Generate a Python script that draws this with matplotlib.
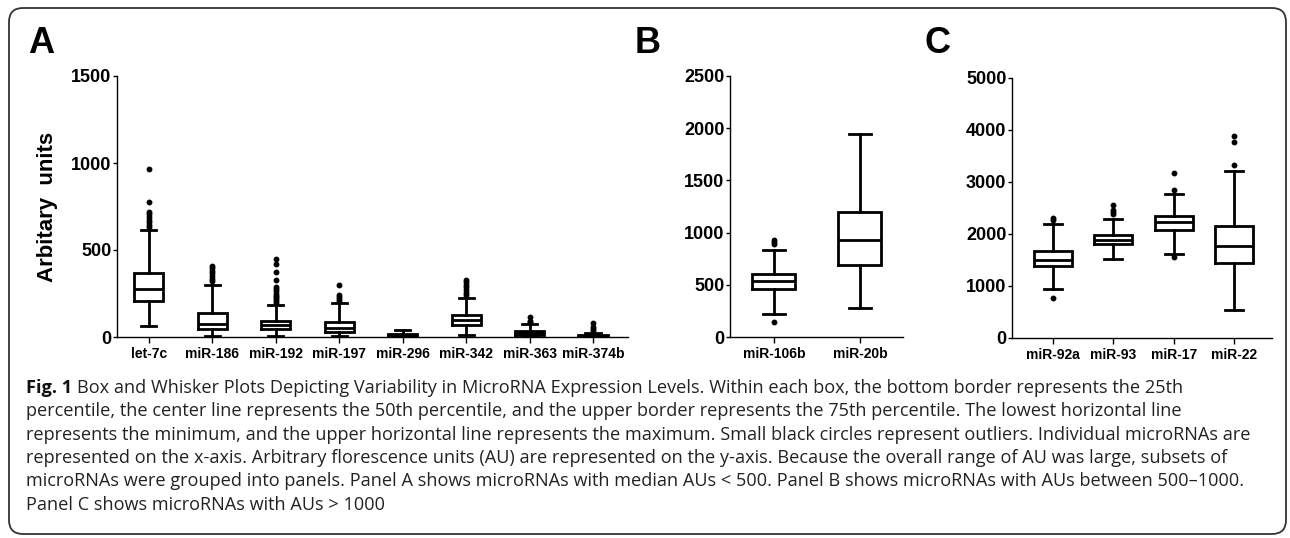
import matplotlib
matplotlib.use('Agg')
import matplotlib.pyplot as plt
from matplotlib.patches import FancyBboxPatch

# Panel A values
names_a = ['let-7c', 'miR-186', 'miR-192', 'miR-197', 'miR-296', 'miR-342', 'miR-363', 'miR-374b']
lo_a = [63, 6, 6, 4, 0, 10, 2, 0]
q1_a = [207, 48, 44, 31, 3, 71, 14, 2]
med_a = [278, 73, 68, 54, 8, 98, 25, 5]
q3_a = [366, 136, 92, 86, 17, 125, 37, 10]
hi_a = [613, 297, 182, 194, 40, 222, 73, 25]
out_a = [
    [630, 645, 660, 675, 690, 705, 720, 776, 963],
    [320, 335, 350, 365, 380, 395, 408],
    [198, 208, 218, 228, 238, 250, 262, 275, 290, 326, 375, 418, 447],
    [205, 217, 228, 240, 297],
    [],
    [240, 255, 270, 285, 300, 315, 330],
    [85, 92, 115],
    [35, 45, 55, 83],
]

# Panel B
names_b = ['miR-106b', 'miR-20b']
lo_b = [218, 278]
q1_b = [462, 687]
med_b = [536, 933]
q3_b = [600, 1199]
hi_b = [838, 1940]
out_b = [[144, 890, 910, 930], []]

# Panel C
names_c = ['miR-92a', 'miR-93', 'miR-17', 'miR-22']
lo_c = [942, 1519, 1615, 532]
q1_c = [1377, 1800, 2077, 1442]
med_c = [1500, 1891, 2224, 1770]
q3_c = [1665, 1987, 2352, 2147]
hi_c = [2190, 2288, 2769, 3218]
out_c = [[769, 2260, 2300], [2385, 2420, 2460, 2560], [1564, 2846, 3167], [3333, 3763, 3891]]

caption = [
    "Box and Whisker Plots Depicting Variability in MicroRNA Expression Levels. Within each box, the bottom border represents the 25th",
    "percentile, the center line represents the 50th percentile, and the upper border represents the 75th percentile. The lowest horizontal line",
    "represents the minimum, and the upper horizontal line represents the maximum. Small black circles represent outliers. Individual microRNAs are",
    "represented on the x-axis. Arbitrary florescence units (AU) are represented on the y-axis. Because the overall range of AU was large, subsets of",
    "microRNAs were grouped into panels. Panel A shows microRNAs with median AUs < 500. Panel B shows microRNAs with AUs between 500\u20131000.",
    "Panel C shows microRNAs with AUs > 1000",
]

W, H = 1290, 538
fig = plt.figure(figsize=(W / 100, H / 100), dpi=100)

# background axes in pixel units for frame, letters and caption
bg = fig.add_axes([0, 0, 1, 1])
bg.set_xlim(0, W)
bg.set_ylim(H, 0)
bg.axis('off')
bg.add_patch(FancyBboxPatch((9, 8), 1277, 526, boxstyle='round,pad=0,rounding_size=14',
                            fill=False, edgecolor='#333333', linewidth=1.3))

sans = ['Liberation Sans', 'DejaVu Sans']
narrow = ['Liberation Sans Narrow', 'Liberation Sans', 'DejaVu Sans']


def px_axes(left, right, top, bottom):
    return fig.add_axes([left / W, 1 - bottom / H, (right - left) / W, (bottom - top) / H])


def panel(ax, names, lo, q1, med, q3, hi, out, width, capw, ymax, yticks, xlim, tickfont):
    stats = []
    for i in range(len(names)):
        stats.append(dict(label=names[i], whislo=lo[i], q1=q1[i], med=med[i],
                          q3=q3[i], whishi=hi[i], fliers=out[i]))
    lw = 2.0
    ax.bxp(stats, positions=list(range(1, len(names) + 1)), widths=width, capwidths=capw,
           boxprops=dict(color='black', linewidth=lw, solid_joinstyle='miter'),
           medianprops=dict(color='black', linewidth=lw),
           whiskerprops=dict(color='black', linewidth=lw),
           capprops=dict(color='black', linewidth=lw),
           flierprops=dict(marker='o', markerfacecolor='black', markeredgecolor='black',
                           markersize=3.2, linestyle='none'))
    ax.set_xlim(*xlim)
    ax.set_ylim(0, ymax)
    ax.set_yticks(yticks)
    ax.set_yticklabels([str(t) for t in yticks], fontsize=13, fontweight='bold', family=sans)
    ax.set_xticks(list(range(1, len(names) + 1)))
    ax.set_xticklabels(names, fontsize=10, fontweight='bold', family=tickfont)
    for s in ['top', 'right']:
        ax.spines[s].set_visible(False)
    for s in ['left', 'bottom']:
        ax.spines[s].set_linewidth(1.0)
    ax.tick_params(axis='y', length=3, width=1.0, pad=1)
    ax.tick_params(axis='x', length=4, width=1.0, pad=3)
    ax.set_facecolor('none')


axA = px_axes(117, 628, 76, 337)
panel(axA, names_a, lo_a, q1_a, med_a, q3_a, hi_a, out_a, 0.46, 0.24, 1500,
      [0, 500, 1000, 1500], (0.5, 8.55), sans)

axB = px_axes(730, 903, 76, 337)
panel(axB, names_b, lo_b, q1_b, med_b, q3_b, hi_b, out_b, 0.5, 0.25, 2500,
      [0, 500, 1000, 1500, 2000, 2500], (0.49, 2.5), narrow)

axC = px_axes(1012, 1272, 78, 338)
panel(axC, names_c, lo_c, q1_c, med_c, q3_c, hi_c, out_c, 0.63, 0.3, 5000,
      [0, 1000, 2000, 3000, 4000, 5000], (0.32, 4.63), narrow)

bg.text(48, 207, 'Arbitary  units', rotation=90, ha='center', va='center',
        fontsize=16, fontweight='bold', family=sans)

for letter, x in [('A', 28), ('B', 635), ('C', 925)]:
    bg.text(x, 53, letter, fontsize=26, fontweight='bold', family=sans,
            ha='left', va='baseline')

# caption
cap_font = ['Open Sans', 'DejaVu Sans']
cap_size = 13.1
t0 = bg.text(26, 388, 'Fig. 1', fontsize=cap_size, fontweight='bold', family=cap_font,
             ha='left', va='center', color='#111111')
renderer = fig.canvas.get_renderer()
bb = t0.get_window_extent(renderer)
x_after = bb.x1 + 5
for i, line in enumerate(caption):
    y = 388 + 23.3 * i
    x = x_after if i == 0 else 26
    bg.text(x, y, line, fontsize=cap_size, family=cap_font, ha='left', va='center',
            color='#222222')

fig.savefig('out.png', dpi=100)
